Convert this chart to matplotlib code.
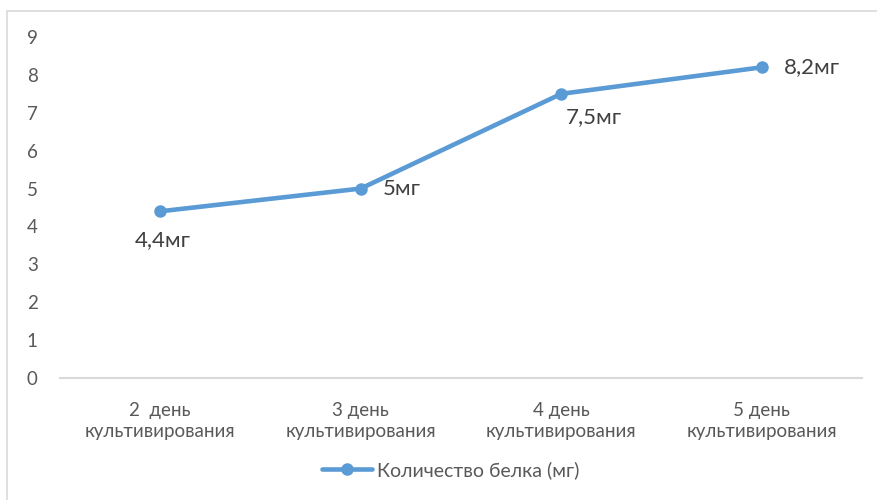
import matplotlib.pyplot as plt
from matplotlib.patches import Rectangle

plt.rcParams['font.family'] = ['Lato', 'DejaVu Sans']

days = ['2  день\nкультивирования', '3 день\nкультивирования',
        '4 день\nкультивирования', '5 день\nкультивирования']
protein = [4.4, 5.0, 7.5, 8.2]
point_labels = ['4,4мг', '5мг', '7,5мг', '8,2мг']
series_name = 'Количество белка (мг)'

blue = '#5B9BD5'
grey = '#595959'

fig = plt.figure(figsize=(8.78, 5.0), dpi=100)
ax = fig.add_axes([0.0683, 0.244, 0.9135, 0.682])

x = list(range(len(days)))
ax.plot(x, protein, color=blue, lw=3.3, marker='o', ms=8,
        solid_capstyle='round', label=series_name)

# подписи точек: смещения в пикселях как на картинке
offsets = [(2, -29, 'center'), (22, 0, 'left'), (4, -23, 'left'), (22, 0, 'left')]
for xi, yi, txt, (dx, dy, ha) in zip(x, protein, point_labels, offsets):
    ax.annotate(txt, (xi, yi), xytext=(dx, dy), textcoords='offset pixels',
                ha=ha, va='center', fontsize=16, color='#404040')

ax.set_xlim(-0.5, 3.5)
ax.set_ylim(0, 9)
ax.set_yticks(range(10))
ax.set_xticks(x)
ax.set_xticklabels(days, linespacing=1.3)
ax.tick_params(axis='both', length=0, colors=grey)
ax.tick_params(axis='y', pad=16, labelsize=13.5)
ax.tick_params(axis='x', pad=17, labelsize=13.5)

for side in ['top', 'right', 'left']:
    ax.spines[side].set_visible(False)
ax.spines['bottom'].set_color('#D9D9D9')
ax.spines['bottom'].set_linewidth(1.5)

leg = fig.legend(loc='center', bbox_to_anchor=(0.513, 0.06), frameon=False,
                 fontsize=14, handlelength=2.6, handletextpad=0.25)
for t in leg.get_texts():
    t.set_color(grey)

# рамка вокруг диаграммы
fig.patches.append(Rectangle((7 / 878, -0.1), 1.2, 1 - 11 / 500 + 0.1,
                             transform=fig.transFigure, fill=False,
                             edgecolor='#D9D9D9', lw=1.2))

fig.savefig('out.png', dpi=100)
